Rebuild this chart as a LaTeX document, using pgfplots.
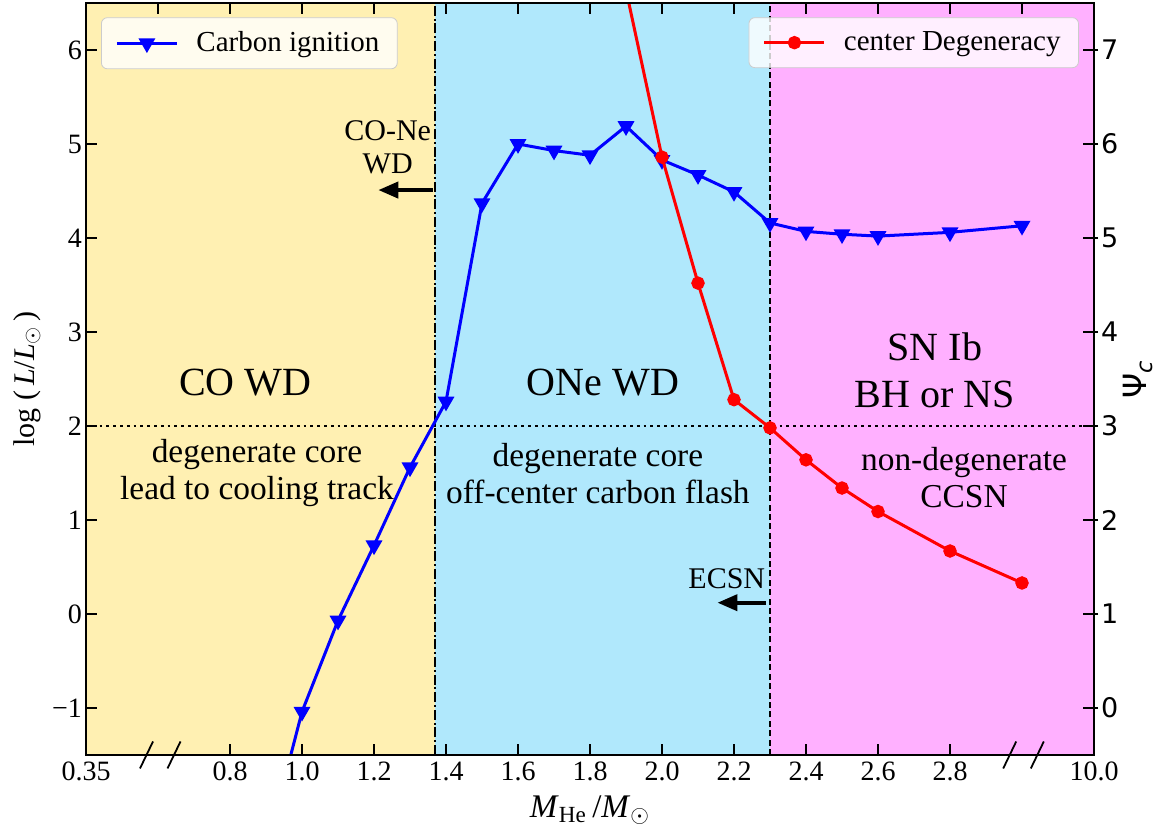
\documentclass[border=0pt]{standalone}
\usepackage{fontspec}
\setmainfont{Liberation Serif}
\newfontfamily\dejavu{DejaVu Sans}
\usepackage{pgfplots}
\pgfplotsset{compat=1.18}
\usetikzlibrary{arrows.meta}

\definecolor{coyellow}{RGB}{255,240,178}
\definecolor{onecyan}{RGB}{176,232,252}
\definecolor{snpink}{RGB}{255,176,255}

\newcommand\ticksize{\fontsize{14}{16}\selectfont}
\newcommand\bigtext{\fontsize{20}{23.5}\selectfont}
\newcommand\midtext{\fontsize{16.7}{18.5}\selectfont}
\newcommand\notetext{\fontsize{15}{16.5}\selectfont}

% log L at carbon ignition versus helium core mass
\pgfplotstableread{
m    logL
0.9  -2.52
1.0  -1.04
1.1  -0.07
1.2   0.73
1.3   1.56
1.4   2.26
1.5   4.37
1.6   5.00
1.7   4.93
1.8   4.88
1.9   5.19
2.0   4.83
2.1   4.67
2.2   4.49
2.3   4.16
2.4   4.07
2.5   4.04
2.6   4.02
2.8   4.06
3.0   4.13
}\carbonign

% central degeneracy parameter Psi_c
\pgfplotstableread{
m    psi
1.9  7.64
2.0  5.86
2.1  4.52
2.2  3.28
2.3  2.98
2.4  2.64
2.5  2.34
2.6  2.09
2.8  1.67
3.0  1.33
}\degeneracy

\pgfplotsset{
  frame/.style={
    scale only axis, width=504pt, height=376pt, xmin=0.4, xmax=3.2,
    axis line style={line width=0.85pt},
    tick style={black, line width=0.85pt},
  },
  boxlegend/.style={
    draw=black!20, fill=white, fill opacity=0.8, text opacity=1,
    rounded corners=3pt, font=\fontsize{14.5}{17}\selectfont,
    inner xsep=7pt, inner ysep=5pt,
    /tikz/every odd column/.append style={column sep=7pt},
  },
  legend image code/.code={
    \draw[mark repeat=2, mark phase=2, fill opacity=1, draw opacity=1, #1]
      plot coordinates {(0pt,0pt) (15pt,0pt) (30pt,0pt)};
  },
}

\begin{document}
\begin{tikzpicture}
\begin{axis}[
  frame, name=main,
  ymin=-1.5, ymax=6.5,
  axis on top,
  xtick={0.4,0.8,1.0,1.2,1.4,1.6,1.8,2.0,2.2,2.4,2.6,2.8,3.2},
  xticklabels={0.35,0.8,1.0,1.2,1.4,1.6,1.8,2.0,2.2,2.4,2.6,2.8,10.0},
  ytick={-1,0,1,2,3,4,5,6},
  yticklabels={−1,0,1,2,3,4,5,6},
  xtick pos=left, ytick pos=left,
  tick align=inside, major tick length=5.5pt,
  xticklabel style={font=\ticksize},
  yticklabel style={font=\ticksize, xshift=1.5pt},
  xlabel={\textit{M}\textsubscript{He}\,/\textit{M}$_{\odot}$},
  xlabel style={at={(axis description cs:0.5,-0.073)}, anchor=center, font=\fontsize{16.5}{18}\selectfont},
  ylabel={log (\,\textit{L}/\textit{L}$_\odot$\,)},
  ylabel style={at={(axis description cs:-0.0585,0.5)}, anchor=center, font=\fontsize{15}{17}\selectfont},
  legend style={boxlegend, at={(0.0149,0.981)}, anchor=north west},
]
% remnant regions
\fill[coyellow] (axis cs:0.4,-1.5) rectangle (axis cs:1.37,6.5);
\fill[onecyan]  (axis cs:1.37,-1.5) rectangle (axis cs:2.3,6.5);
\fill[snpink]   (axis cs:2.3,-1.5) rectangle (axis cs:3.2,6.5);
\draw[line width=0.95pt, dash pattern=on 5pt off 1.4pt on 1pt off 1.4pt]
  (axis cs:1.37,-1.5) -- (axis cs:1.37,6.5);
\draw[line width=0.95pt, dash pattern=on 3pt off 1.7pt]
  (axis cs:2.3,-1.5) -- (axis cs:2.3,6.5);
\draw[line width=1.4pt, dash pattern=on 1.4pt off 2pt]
  (axis cs:0.4,2) -- (axis cs:3.2,2);

\addplot[blue, line width=1.5pt, mark=triangle*, mark size=3.4pt,
  mark options={rotate=180, solid}] table[x=m, y=logL] {\carbonign};
\addlegendentry{Carbon ignition}

% region labels
\node[font=\bigtext] at (axis cs:0.842,2.46) {CO WD};
\node[font=\midtext, align=center] at (axis cs:0.875,1.495) {degenerate core\\lead to cooling track};
\node[font=\bigtext] at (axis cs:1.836,2.46) {ONe WD};
\node[font=\midtext, align=center] at (axis cs:1.822,1.495) {degenerate core\\off-center carbon flash};
\node[font=\bigtext, align=center] at (axis cs:2.758,2.596) {SN Ib\\BH or NS};
\node[font=\midtext, align=center] at (axis cs:2.839,1.452) {non-degenerate\\CCSN};
\node[font=\notetext, align=center] at (axis cs:1.238,4.96) {CO-Ne\\WD};
\node[font=\notetext] at (axis cs:2.18,0.38) {ECSN};
\draw[line width=2pt, -{Triangle[length=10pt, width=8pt]}]
  (axis cs:1.363,4.51) -- (axis cs:1.212,4.51);
\draw[line width=2pt, -{Triangle[length=10pt, width=8pt]}]
  (axis cs:2.289,0.12) -- (axis cs:2.154,0.12);
\end{axis}

\begin{axis}[
  frame,
  ymin=-0.5, ymax=7.5,
  hide x axis,
  ytick={0,1,2,3,4,5,6,7},
  yticklabels={0,1,2,3,4,5,6,7},
  ytick pos=right, yticklabel pos=right,
  tick align=inside, major tick length=7.5pt,
  ytick style={xshift=2pt},
  yticklabel style={font=\dejavu\fontsize{13.5}{15}\selectfont},
  ylabel={\dejavu Ψ\textsubscript{\itshape c}},
  ylabel style={at={(axis description cs:1.0437,0.5)}, anchor=center, font=\fontsize{16}{18}\selectfont},
  legend style={boxlegend, at={(0.985,0.981)}, anchor=north east},
]
\addplot[red, line width=1.5pt, mark=*, mark size=2.6pt, mark options={solid}]
  table[x=m, y=psi] {\degeneracy};
\addlegendentry{center Degeneracy}
\end{axis}

% top ticks
\begin{axis}[
  frame,
  ymin=0, ymax=1,
  hide y axis,
  xtick={0.6,0.8,1.0,1.2,1.4,1.6,1.8,2.0,2.2,2.4,2.6,2.8,3.0},
  xticklabel=\empty,
  xtick pos=right,
  tick align=inside, major tick length=5.5pt,
]
\end{axis}

% axis break marks
\foreach \bx in {30.25pt,44pt,461.85pt,475.65pt}{
  \draw[line width=0.9pt] ([xshift=\bx]main.south west) ++(-3.25pt,-6.75pt) -- ++(6.5pt,13.5pt);
}

\pgfresetboundingbox
\path[use as bounding box] ([xshift=-43pt,yshift=-35pt]main.south west)
  rectangle ([xshift=32.5pt,yshift=1.5pt]main.north east);
\end{tikzpicture}
\end{document}
